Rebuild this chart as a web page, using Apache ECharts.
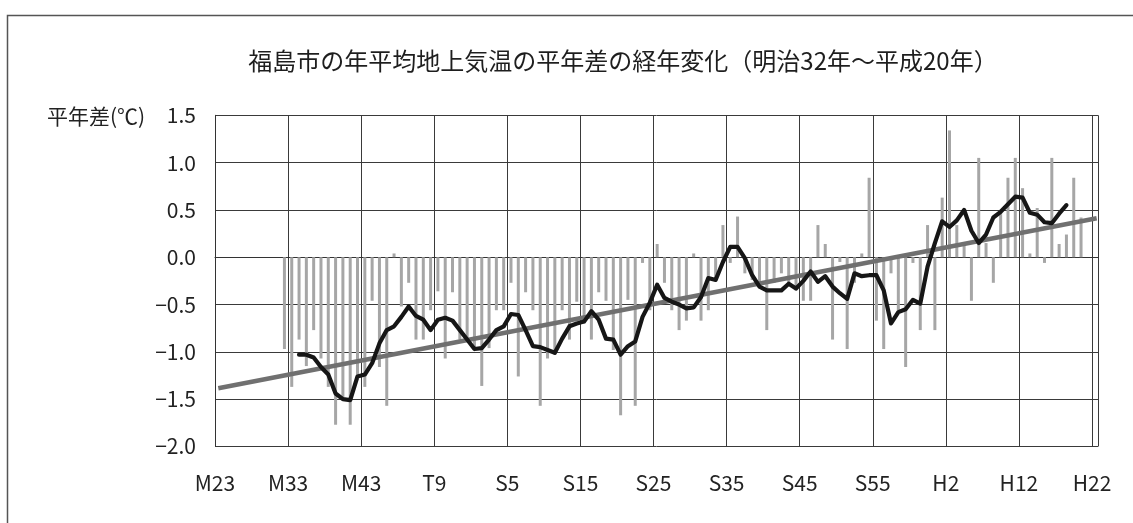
<!DOCTYPE html>
<html><head><meta charset="utf-8">
<script src="https://cdn.jsdelivr.net/npm/echarts@6/dist/echarts.min.js"></script>
<style>html,body{margin:0;padding:0;background:#fff}#c{width:1133px;height:523px}</style>
</head><body><div id="c"></div>
<script>
// ---- data ----
const titleText = '福島市の年平均地上気温の平年差の経年変化（明治32年～平成20年）';
const yName = '平年差(℃)';
const xTickYears = [1890,1900,1910,1920,1930,1940,1950,1960,1970,1980,1990,2000,2010];
const xTickLabels = ['M23','M33','M43','T9','S5','S15','S25','S35','S45','S55','H2','H12','H22'];
const firstBarYear = 1899; // 明治32年
// yearly anomaly (°C) 1899..2008
const anomalies = [
  -0.97,-1.37,-0.87,-1.15,-0.77,-1.07,-1.37,-1.77,-1.50,-1.77,
  -1.26,-1.37,-0.46,-1.16,-1.57, 0.04,-0.52,-0.27,-0.87,-0.87,
  -0.56,-0.36,-1.07,-0.37,-0.87,-0.87,-0.98,-1.36,-0.96,-0.56,
  -0.56,-0.27,-1.26,-0.37,-0.56,-1.57,-1.07,-1.03,-0.56,-0.87,
  -0.47,-0.70,-0.87,-0.37,-0.46,-0.98,-1.67,-0.45,-1.57,-0.06,
  -0.56, 0.14,-0.27,-0.56,-0.77,-0.67, 0.04,-0.67,-0.56,-0.24,
   0.34,-0.06, 0.43,-0.17,-0.24,-0.31,-0.77,-0.27,-0.17,-0.27,
  -0.35,-0.46,-0.46, 0.34, 0.14,-0.87,-0.05,-0.97,-0.27, 0.04,
   0.84,-0.67,-0.97,-0.17,-0.56,-1.16,-0.06,-0.77, 0.34,-0.77,
   0.63, 1.34, 0.34, 0.15,-0.46, 1.05, 0.15,-0.27, 0.50, 0.84,
   1.05, 0.73, 0.04, 0.52,-0.06, 1.05, 0.14, 0.24, 0.84, 0.42
];
// 5-year running mean (°C), centred years 1901..2006
const firstMeanYear = 1901;
const runningMean = [
  -1.03,-1.03,-1.06,-1.16,-1.24,-1.44,-1.50,-1.51,-1.26,-1.24,
  -1.12,-0.91,-0.77,-0.73,-0.63,-0.52,-0.62,-0.66,-0.77,-0.66,
  -0.64,-0.67,-0.77,-0.87,-0.97,-0.96,-0.87,-0.77,-0.73,-0.60,
  -0.61,-0.77,-0.94,-0.95,-0.98,-1.01,-0.86,-0.73,-0.70,-0.68,
  -0.57,-0.66,-0.86,-0.87,-1.03,-0.94,-0.89,-0.63,-0.48,-0.29,
  -0.43,-0.47,-0.50,-0.54,-0.53,-0.42,-0.22,-0.24,-0.05, 0.11,
   0.11,-0.01,-0.19,-0.31,-0.35,-0.35,-0.35,-0.28,-0.33,-0.25,
  -0.15,-0.26,-0.20,-0.31,-0.38,-0.44,-0.17,-0.20,-0.19,-0.19,
  -0.35,-0.70,-0.58,-0.55,-0.45,-0.49,-0.10, 0.15, 0.38, 0.32,
   0.39, 0.50, 0.28, 0.15, 0.24, 0.42, 0.48, 0.56, 0.64, 0.63,
   0.47, 0.45, 0.37, 0.36, 0.46, 0.55
];
// long-term trend line end points [year, °C]
const trendYears = [1890.45, 2010.64];
const trendValues = [-1.385, 0.412];

// ---- build series data ----
const barData = anomalies.map((v, i) => [firstBarYear + i + 0.5, v]);
const meanData = runningMean.map((v, i) => [firstMeanYear + i + 0.5, v]);
const trendData = trendYears.map((y, i) => [y, trendValues[i]]);

const FONT = '"Noto Sans CJK JP", "Noto Sans", sans-serif';
const chart = echarts.init(document.getElementById('c'), null, {renderer: 'canvas'});
chart.setOption({
  animation: false,
  backgroundColor: '#fff',
  grid: {left: 215, top: 115.3, width: 883, height: 331.2, outerBoundsMode: 'none'},
  graphic: [
    {type: 'rect', shape: {x: 7.5, y: 15.5, width: 1300, height: 700},
     style: {fill: 'none', stroke: '#555', lineWidth: 1.5}, silent: true},
    {type: 'text', x: 623, y: 61,
     style: {text: titleText, align: 'center', verticalAlign: 'middle', fontSize: 24, fontFamily: FONT, fill: '#1e1e1e'}},
    {type: 'text', x: 47, y: 116,
     style: {text: yName, align: 'left', verticalAlign: 'middle', fontSize: 21, fontFamily: FONT, fill: '#222'}}
  ],
  xAxis: {
    type: 'value', min: 1890, max: 2010.82, interval: 10,
    axisLine: {show: true, lineStyle: {color: '#333', width: 1}},
    axisTick: {show: false},
    splitLine: {show: true, lineStyle: {color: '#3a3a3a', width: 1}},
    axisLabel: {
      showMinLabel: true, margin: 26, fontSize: 21, fontFamily: FONT, color: '#222',
      formatter: v => { const i = xTickYears.indexOf(Math.round(v)); return (i >= 0 && Math.abs(v - xTickYears[i]) < 1e-6) ? xTickLabels[i] : ''; }
    }
  },
  yAxis: {
    type: 'value', min: -2, max: 1.5, interval: 0.5,
    axisLine: {show: true, lineStyle: {color: '#333', width: 1}},
    axisTick: {show: false},
    splitLine: {show: true, lineStyle: {color: '#3a3a3a', width: 1}},
    axisLabel: {
      margin: 19, fontSize: 21, fontFamily: FONT, color: '#222',
      formatter: v => (v < 0 ? '−' : '') + Math.abs(v).toFixed(1)
    }
  },
  series: [
    {type: 'bar', data: barData, barWidth: 3, itemStyle: {color: '#a6a6a6'}, z: 2},
    {type: 'line', data: trendData, symbol: 'none', lineStyle: {color: '#707070', width: 4.5}, z: 3},
    {type: 'line', data: meanData, symbol: 'none', lineStyle: {color: '#161616', width: 4.2, join: 'round', cap: 'round'}, z: 4}
  ]
});
</script></body></html>
